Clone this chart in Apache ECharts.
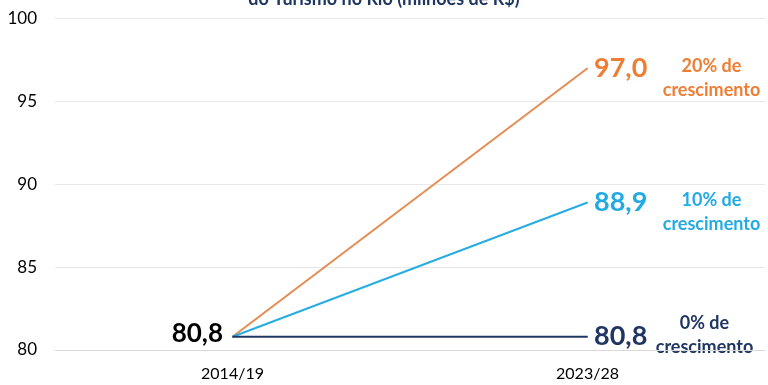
<!DOCTYPE html>
<html>
<head>
<meta charset="utf-8">
<script src="https://cdn.jsdelivr.net/npm/echarts@6/dist/echarts.min.js"></script>
<style>html,body{margin:0;padding:0;background:#fff}#c{width:768px;height:385px}</style>
</head>
<body>
<div id="c"></div>
<script>
var categories = ['2014/19', '2023/28'];
var serie20 = [80.8, 97.0];
var serie10 = [80.8, 88.9];
var serie0 = [80.8, 80.8];
var yTicks = [80, 85, 90, 95, 100];
var notes20 = ['20% de', 'crescimento'];
var notes10 = ['10% de', 'crescimento'];
var notes0 = ['0% de', 'crescimento'];
var titleText = 'do Turismo no Rio (milhões de R$)';

var C20 = '#E58C52', C20T = '#EF7E35';
var C10 = '#27ADE3', C10T = '#22ABE2';
var C0 = '#1F3562', C0T = '#1F3562';
var FONT = 'Lato, "Open Sans", sans-serif';

function fmt(v){ return v.toFixed(1).replace('.', ','); }

function buildData(arr, color, showStart){
  return arr.map(function(v, i){
    var d = {value: v};
    if (i === arr.length - 1) {
      d.label = {show: true, position: 'right', distance: 6, formatter: function(p){return fmt(p.value);},
        color: color, fontSize: 27, fontWeight: 'bold', fontFamily: FONT};
    } else if (showStart) {
      d.label = {show: true, position: 'left', distance: 9, offset: [0, -3], formatter: function(p){return fmt(p.value);},
        color: '#000', fontSize: 26, fontWeight: 'bold', fontFamily: FONT};
    } else {
      d.label = {show: false};
    }
    return d;
  });
}

function lineSeries(name, arr, color, labelColor, showStart){
  return {
    name: name, type: 'line', data: buildData(arr, labelColor, showStart),
    symbol: 'circle', symbolSize: 1, showSymbol: true,
    lineStyle: {color: color, width: 2}, itemStyle: {color: color},
    emphasis: {disabled: true}, animation: false
  };
}

var chart = echarts.init(document.getElementById('c'), null, {renderer: 'canvas'});
chart.setOption({
  animation: false,
  title: {text: titleText, left: 'center', top: -10, padding: 0,
    textStyle: {fontSize: 18, fontWeight: 'bold', color: '#1F3562', fontFamily: FONT}},
  grid: {left: 55, right: 3, top: 18.5, bottom: 35},
  xAxis: {type: 'category', data: categories, boundaryGap: true,
    axisLine: {show: true, lineStyle: {color: '#D9D9D9'}}, axisTick: {show: false},
    axisLabel: {fontSize: 16, color: '#000', margin: 16, fontFamily: FONT}},
  yAxis: {type: 'value', min: yTicks[0], max: yTicks[yTicks.length - 1], interval: yTicks[1] - yTicks[0],
    axisLine: {show: false}, axisTick: {show: false},
    axisLabel: {fontSize: 17, color: '#000', margin: 18, fontFamily: FONT},
    splitLine: {lineStyle: {color: '#E8E8E8', width: 1}}},
  series: [
    lineSeries('20%', serie20, C20, C20T, false),
    lineSeries('10%', serie10, C10, C10T, false),
    lineSeries('0%', serie0, C0, C0T, true)
  ]
});

function note(lines, arr, color, dx, dy){
  var p = chart.convertToPixel({gridIndex: 0}, [categories.length - 1, arr[arr.length - 1]]);
  return {type: 'text', x: p[0] + dx, y: p[1] + dy,
    style: {text: lines.join('\n'), fill: color, font: 'bold 18px ' + FONT,
      textAlign: 'center', textVerticalAlign: 'middle', lineHeight: 24}};
}
chart.setOption({graphic: [
  note(notes20, serie20, C20T, 124, 10),
  note(notes10, serie10, C10T, 124, 10),
  note(notes0, serie0, C0T, 117, -2)
]});
</script>
</body>
</html>
